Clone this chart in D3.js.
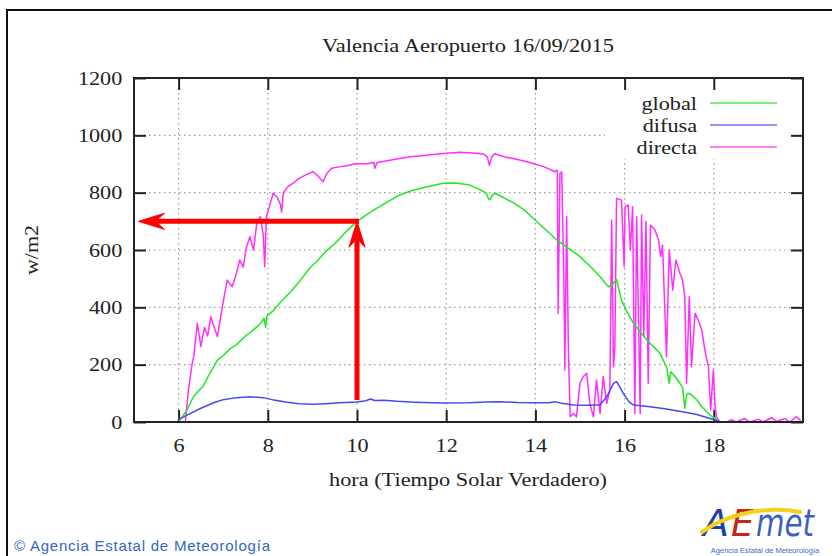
<!DOCTYPE html>
<html>
<head>
<meta charset="utf-8">
<script src="https://d3js.org/d3.v7.min.js"></script>
<style>
  body { margin: 0; background: #fff; }
  svg text { font-family: "Liberation Serif", "DejaVu Serif", serif; }
</style>
</head>
<body>
<svg id="chart"></svg>
<script>
// hours (true solar time) and W/m2
var globalHours = [5.98, 6.0, 6.1, 6.2, 6.33, 6.45, 6.55, 6.7, 6.87, 7.0, 7.15, 7.3, 7.5, 7.65, 7.8, 7.92, 7.95, 7.98, 8.1, 8.3, 8.5, 8.7, 8.94, 9.1, 9.3, 9.5, 9.7, 9.85, 10.0, 10.2, 10.37, 10.6, 10.8, 10.96, 11.2, 11.5, 11.75, 11.93, 12.2, 12.5, 12.7, 12.9, 12.95, 12.98, 13.03, 13.09, 13.2, 13.5, 13.75, 13.95, 14.2, 14.48, 14.75, 15.0, 15.25, 15.45, 15.64, 15.7, 15.75, 15.82, 15.93, 16.05, 16.2, 16.35, 16.5, 16.65, 16.79, 16.9, 16.94, 17.0, 17.03, 17.1, 17.24, 17.3, 17.35, 17.39, 17.43, 17.5, 17.62, 17.72, 17.84, 17.95, 18.03, 18.1, 18.2];
var globalValues = [0, 2, 22, 45, 88, 108, 125, 170, 216, 232, 255, 270, 300, 318, 338, 362, 330, 370, 385, 420, 452, 488, 537, 560, 595, 622, 655, 678, 700, 722, 739, 760, 778, 792, 806, 818, 827, 833, 834, 828, 815, 798, 778, 775, 790, 798, 790, 765, 740, 711, 675, 635, 605, 577, 540, 507, 472, 476, 485, 497, 425, 385, 344, 315, 286, 262, 240, 205, 193, 135, 175, 165, 135, 120, 48, 95, 100, 95, 77, 55, 36, 20, 13, 0, 0];

var difusaHours = [5.98, 6.0, 6.2, 6.5, 6.8, 7.0, 7.3, 7.6, 7.9, 8.1, 8.4, 8.7, 9.0, 9.3, 9.6, 9.9, 10.0, 10.2, 10.3, 10.4, 10.6, 10.9, 11.3, 11.7, 12.0, 12.5, 12.9, 13.2, 13.6, 14.0, 14.3, 14.45, 14.55, 14.85, 15.2, 15.45, 15.6, 15.75, 15.82, 15.9, 15.97, 16.1, 16.2, 16.57, 16.9, 17.3, 17.6, 17.99, 18.14, 18.2];
var difusaValues = [0, 8, 25, 48, 68, 78, 85, 88, 85, 78, 70, 64, 62, 64, 67, 69, 70, 74, 80, 75, 76, 72, 69, 67, 66, 67, 70, 71, 68, 67, 67, 71, 66, 59, 58, 60, 88, 135, 141, 120, 100, 70, 59, 53, 46, 36, 27, 9, 0, 0];

var directaHours = [6.0, 6.15, 6.22, 6.3, 6.34, 6.42, 6.5, 6.58, 6.65, 6.72, 6.8, 6.87, 6.98, 7.09, 7.2, 7.3, 7.37, 7.45, 7.52, 7.6, 7.68, 7.75, 7.83, 7.9, 7.93, 7.97, 8.05, 8.12, 8.2, 8.28, 8.31, 8.35, 8.45, 8.57, 8.7, 8.85, 9.02, 9.13, 9.2, 9.24, 9.32, 9.43, 9.6, 9.8, 9.99, 10.2, 10.38, 10.4, 10.45, 10.8, 11.19, 11.5, 11.93, 12.31, 12.6, 12.83, 12.92, 12.97, 13.02, 13.09, 13.3, 13.5, 13.7, 13.95, 14.2, 14.44, 14.48, 14.49, 14.51, 14.55, 14.59, 14.64, 14.66, 14.7, 14.74, 14.78, 14.85, 14.92, 15.0, 15.07, 15.15, 15.22, 15.3, 15.37, 15.45, 15.52, 15.6, 15.67, 15.71, 15.75, 15.78, 15.82, 15.93, 15.99, 16.01, 16.08, 16.13, 16.18, 16.23, 16.27, 16.35, 16.38, 16.43, 16.48, 16.53, 16.58, 16.68, 16.76, 16.81, 16.85, 16.94, 17.0, 17.08, 17.15, 17.24, 17.3, 17.35, 17.39, 17.45, 17.5, 17.58, 17.65, 17.73, 17.8, 17.88, 17.93, 17.99, 18.03, 18.06, 18.14, 18.3, 18.4, 18.5, 18.7, 18.8, 19.0, 19.1, 19.3, 19.4, 19.6, 19.7, 19.85, 19.95];
var directaValues = [0, 0, 110, 200, 228, 345, 263, 330, 300, 367, 330, 298, 402, 495, 472, 520, 565, 540, 610, 646, 600, 690, 716, 650, 542, 716, 760, 798, 786, 760, 733, 800, 821, 833, 850, 862, 873, 857, 845, 838, 866, 885, 890, 895, 902, 900, 905, 885, 905, 915, 925, 930, 937, 941, 938, 935, 925, 895, 925, 936, 925, 919, 912, 902, 890, 873, 879, 876, 379, 867, 873, 484, 181, 716, 251, 18, 30, 18, 135, 158, 170, 65, 18, 146, 30, 158, 65, 112, 705, 193, 251, 780, 774, 542, 751, 757, 600, 751, 30, 716, 30, 722, 298, 699, 135, 687, 670, 635, 577, 617, 228, 600, 460, 565, 519, 495, 437, 135, 437, 193, 379, 356, 321, 251, 193, 42, 181, 53, 18, 0, 0, 8, 0, 12, 0, 10, 0, 15, 2, 12, 0, 18, 5];

var seriesNames = ["global", "difusa", "directa"];
var seriesColors = ["#22e622", "#4848f0", "#ff2eff"];
var xTicks = [6, 8, 10, 12, 14, 16, 18];
var yTicks = [0, 200, 400, 600, 800, 1000, 1200];
// red reading aid: at 10 h global is about 700 W/m2
var markHour = 10, markValue = 700, markBase = 77, markEnd = 5.1;

var W = 832, H = 556;
var margin = {top: 78, right: 29, bottom: 134, left: 134};
var stretch = "scale(1.17,1)";   // the original text is a bit wide

var svg = d3.select("#chart").attr("width", W).attr("height", H);

var x = d3.scaleLinear().domain([5, 20]).range([margin.left, W - margin.right]);
var y = d3.scaleLinear().domain([0, 1200]).range([H - margin.bottom, margin.top]);

// outer frame of the image
svg.append("path")
    .attr("d", "M7," + (H + 2) + "V10H" + (W + 2))
    .attr("fill", "none").attr("stroke", "#111").attr("stroke-width", 2);

// dotted grid
var grid = svg.append("g").attr("stroke", "#999").attr("stroke-width", 1.2).attr("stroke-dasharray", "1.5,3.5");
grid.selectAll("line.v").data(xTicks).enter().append("line")
    .attr("x1", d => x(d)).attr("x2", d => x(d))
    .attr("y1", y(1200)).attr("y2", y(0));
grid.selectAll("line.h").data(yTicks.slice(1, -1)).enter().append("line")
    .attr("x1", x(5)).attr("x2", x(20))
    .attr("y1", d => y(d)).attr("y2", d => y(d));

// legend area hides the grid
svg.append("rect")
    .attr("x", 605).attr("y", y(1200) + 1)
    .attr("width", x(20) - 606).attr("height", 80)
    .attr("fill", "#fff");

// axes, ticks pointing inwards
var axB = svg.append("g").attr("transform", "translate(0," + y(0) + ")")
    .call(d3.axisBottom(x).tickValues(xTicks).tickSize(-12).tickPadding(17).tickFormat(d3.format("d")));
var axT = svg.append("g").attr("transform", "translate(0," + y(1200) + ")")
    .call(d3.axisTop(x).tickValues(xTicks).tickSize(-12).tickFormat(""));
var axL = svg.append("g").attr("transform", "translate(" + x(5) + ",0)")
    .call(d3.axisLeft(y).tickValues(yTicks).tickSize(-12).tickPadding(10).tickFormat(d3.format("d")));
var axR = svg.append("g").attr("transform", "translate(" + x(20) + ",0)")
    .call(d3.axisRight(y).tickValues(yTicks).tickSize(-12).tickFormat(""));
[axB, axT, axL, axR].forEach(function(a) {
  a.select(".domain").remove();
  a.selectAll(".tick line").attr("stroke", "#222").attr("stroke-width", 2);
  a.selectAll("text").attr("font-size", 19).attr("fill", "#222")
    .attr("transform", stretch)
    .style("font-family", "'Liberation Serif', serif");
});

// data lines
var line = d3.line().x(d => x(d[0])).y(d => y(d[1]));
var series = [
  d3.zip(globalHours, globalValues),
  d3.zip(difusaHours, difusaValues),
  d3.zip(directaHours, directaValues)
];
var drawOrder = [2, 0, 1];
drawOrder.forEach(function(i) {
  svg.append("path")
      .datum(series[i])
      .attr("d", line)
      .attr("fill", "none")
      .attr("stroke", seriesColors[i])
      .attr("stroke-width", 1.5)
      .attr("stroke-linejoin", "round");
});

// plot frame
svg.append("rect")
    .attr("x", x(5)).attr("y", y(1200))
    .attr("width", x(20) - x(5)).attr("height", y(0) - y(1200))
    .attr("fill", "none").attr("stroke", "#222").attr("stroke-width", 2);

// legend
var leg = svg.append("g");
seriesNames.forEach(function(n, i) {
  var ly = 103 + i * 22;
  leg.append("g").attr("transform", "translate(697," + ly + ")")
    .append("text").attr("dy", "0.35em").attr("transform", stretch)
      .attr("text-anchor", "end").attr("font-size", 19).attr("fill", "#222").text(n);
  leg.append("line").attr("x1", 710).attr("x2", 777).attr("y1", ly).attr("y2", ly)
      .attr("stroke", seriesColors[i]).attr("stroke-width", 1.5).attr("opacity", 0.8);
});

// red arrows
var red = svg.append("g").attr("fill", "#ff0000").attr("stroke", "#ff0000");
red.append("line")
    .attr("x1", x(markHour)).attr("x2", x(markHour))
    .attr("y1", y(markBase)).attr("y2", y(markValue) + 14)
    .attr("stroke-width", 5);
red.append("path")
    .attr("d", "M" + x(markHour) + "," + y(markValue) + "l-8,26l8,-9l8,9z")
    .attr("stroke-width", 1);
red.append("line")
    .attr("x1", x(markHour) + 2).attr("x2", x(markEnd) + 14)
    .attr("y1", y(markValue)).attr("y2", y(markValue))
    .attr("stroke-width", 5);
red.append("path")
    .attr("d", "M" + (x(markEnd)) + "," + y(markValue) + "l26,-8l-9,8l9,8z")
    .attr("stroke-width", 1);

// titles
svg.append("text").attr("x", 468).attr("y", 52).attr("text-anchor", "middle")
    .attr("font-size", 19).attr("fill", "#222")
    .attr("textLength", 292).attr("lengthAdjust", "spacingAndGlyphs")
    .text("Valencia Aeropuerto  16/09/2015");
svg.append("text").attr("x", 468).attr("y", 486).attr("text-anchor", "middle")
    .attr("font-size", 19).attr("fill", "#222")
    .attr("textLength", 278).attr("lengthAdjust", "spacingAndGlyphs")
    .text("hora (Tiempo Solar Verdadero)");
svg.append("text").attr("transform", "translate(38,250) rotate(-90)")
    .attr("text-anchor", "middle").attr("font-size", 19).attr("fill", "#222")
    .attr("textLength", 50).attr("lengthAdjust", "spacingAndGlyphs")
    .text("w/m2");

// footer
svg.append("text").attr("x", 14).attr("y", 551)
    .style("font-family", "'Liberation Sans', sans-serif")
    .attr("font-size", 15).attr("fill", "#3366cc")
    .attr("textLength", 256).attr("lengthAdjust", "spacing")
    .text("\u00a9 Agencia Estatal de Meteorolog\u00eda");

// AEMET logo, one text per coloured part
var logoParts = [
  {t: "A", x: 703, w: 26, c: "#1f3fa8"},
  {t: "E", x: 731, w: 23, c: "#c8241c"},
  {t: "met", x: 756, w: 58, c: "#3a5fbf"}
];
var logo = svg.append("g");
logo.selectAll("text.part").data(logoParts).enter().append("text")
    .attr("x", d => d.x).attr("y", 536)
    .style("font-family", "'DejaVu Sans', sans-serif").style("font-style", "italic")
    .attr("font-size", 38).attr("fill", d => d.c)
    .attr("textLength", d => d.w).attr("lengthAdjust", "spacingAndGlyphs")
    .text(d => d.t);
logo.append("path")
    .attr("d", "M702,532 C730,512 770,506 800,512")
    .attr("fill", "none").attr("stroke", "#f2d21b").attr("stroke-width", 4).attr("stroke-linecap", "round");
logo.append("text").attr("x", 765).attr("y", 553).attr("text-anchor", "middle")
    .style("font-family", "'Liberation Sans', sans-serif")
    .attr("font-size", 7.5).attr("fill", "#3a6cc6")
    .text("Agencia Estatal de Meteorolog\u00eda");
</script>
</body>
</html>
